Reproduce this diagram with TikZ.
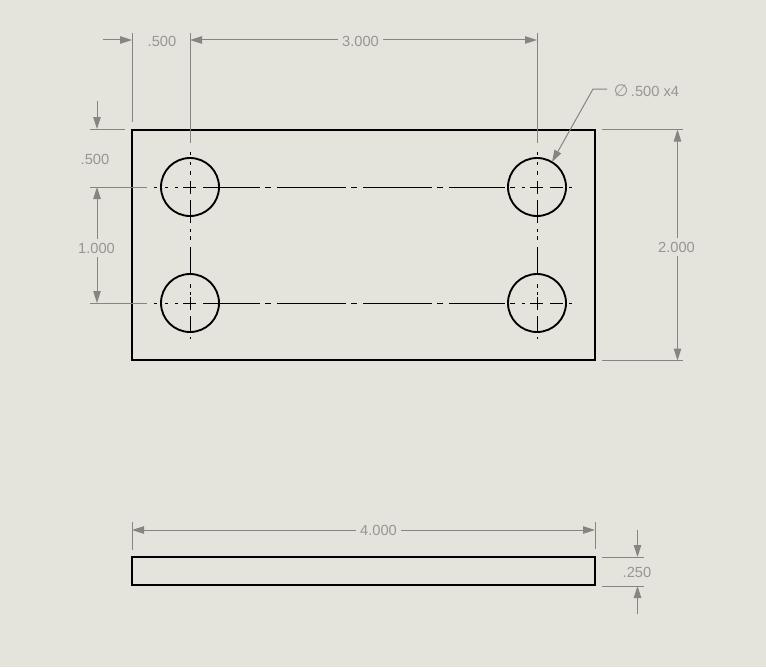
\documentclass[tikz,border=0pt]{standalone}
\usepackage{fontspec}
\setmainfont{Liberation Sans}
\newfontfamily\symfont{DejaVu Sans}
\usetikzlibrary{arrows.meta}
\definecolor{paper}{HTML}{E4E4DC}
\definecolor{dimgray}{HTML}{858582}
\definecolor{dimtext}{HTML}{969692}
\tikzset{
  part/.style={draw=black,line width=1.6pt,line join=miter},
  cline/.style={draw=black,line width=0.7pt},
  dimline/.style={draw=dimgray,line width=0.75pt},
  tip/.style={-{Triangle[length=9pt,width=5.6pt,fill=dimgray]}},
  dimlabel/.style={text=dimtext,font=\fontsize{11pt}{12pt}\selectfont,inner sep=3pt,text depth=0pt}
}
\newcommand{\hsegs}[2]{\foreach \a/\b in {#2}{\draw[cline] (\a,#1) -- (\b,#1);}}
\newcommand{\vsegs}[2]{\foreach \a/\b in {#2}{\draw[cline] (#1,\a) -- (#1,\b);}}
\begin{document}
\begin{tikzpicture}[x=0.75pt,y=-0.75pt]
\useasboundingbox (0,0) rectangle (766,667);
\fill[paper] (0,0) rectangle (766,667);

% centre lines
\hsegs{187}{154/157,165/168,175/178,183/196,203/260,265/271,277/346,351/357,363/432,437/443,449/505,510/515,522/525,530/543,550/563,569/572}
\hsegs{303}{154/157,165/168,175/178,183/196,203/260,265/271,277/346,351/357,363/432,437/443,449/505,510/515,522/525,530/543,550/563,569/572}
\vsegs{190}{152/155,162/165,171/175,181/194,200/223,229/232,236/240,247/274,284/288,292/295,297/310,316/333,337/339}
\vsegs{537}{152/155,162/165,171/175,181/194,200/223,229/232,236/240,247/274,284/288,292/295,297/310,316/333,337/339}

% part
\draw[part] (132,130) rectangle (595,360);
\foreach \n/\cx/\cy in {a/190/187,b/537/187,c/190/303,d/537/303}{
  \draw[part,line width=1.4pt] (\cx,\cy) circle[radius=29];
}
\draw[part] (132,557) rectangle (595,585);

% labels
\node[dimlabel] (top1) at (162,41) {.500};
\node[dimlabel] (top2) at (360.5,41) {3.000};
\node[dimlabel] (left1) at (95,159.5) {.500};
\node[dimlabel] (left2) at (96.5,248) {1.000};
\node[dimlabel] (right) at (676.5,247) {2.000};
\node[dimlabel,inner sep=5pt] (hole) at (646.5,91) {{\symfont\fontsize{12.5pt}{12pt}\selectfont\char"2205}\,.500 x4};
\node[dimlabel] (bot) at (378.5,530) {4.000};
\node[dimlabel] (thk) at (637,572.5) {.250};

% extension lines
\coordinate (e1a) at (132,33); \coordinate (e1b) at (132,122);
\coordinate (e2a) at (190,33); \coordinate (e2b) at (190,143);
\coordinate (e3a) at (537,33); \coordinate (e3b) at (537,143);
\draw[dimline] (e1a)--(e1b) (e2a)--(e2b) (e3a)--(e3b);
\coordinate (e4a) at (90,129); \coordinate (e4b) at (125,129);
\coordinate (e5a) at (90,187); \coordinate (e5b) at (147,187);
\coordinate (e6a) at (90,303); \coordinate (e6b) at (147,303);
\draw[dimline] (e4a)--(e4b) (e5a)--(e5b) (e6a)--(e6b);
\coordinate (e7a) at (602,129); \coordinate (e7b) at (683,129);
\coordinate (e8a) at (602,360.5); \coordinate (e8b) at (683,360.5);
\draw[dimline] (e7a)--(e7b) (e8a)--(e8b);
\coordinate (e9a) at (132,522); \coordinate (e9b) at (132,550);
\coordinate (e10a) at (595,522); \coordinate (e10b) at (595,549);
\draw[dimline] (e9a)--(e9b) (e10a)--(e10b);
\coordinate (e11a) at (602,557); \coordinate (e11b) at (644,557);
\coordinate (e12a) at (602,586); \coordinate (e12b) at (644,586);
\draw[dimline] (e11a)--(e11b) (e12a)--(e12b);

% dimension lines
\coordinate (d1s) at (103,40); \coordinate (d1t) at (132,40);
\draw[dimline,tip] (d1s) -- (d1t);
\coordinate (d2t) at (190,40); \coordinate (d3t) at (537,40);
\draw[dimline,tip] (top2.west |- d2t) -- (d2t);
\draw[dimline,tip] (top2.east |- d3t) -- (d3t);
\coordinate (d4s) at (97,101); \coordinate (d4t) at (97,129);
\draw[dimline,tip] (d4s) -- (d4t);
\coordinate (d5t) at (97,187); \coordinate (d6t) at (97,303);
\draw[dimline,tip] (d5t |- left2.north) -- (d5t);
\draw[dimline,tip] (d6t |- left2.south) -- (d6t);
\coordinate (d7t) at (677.5,129.5); \coordinate (d8t) at (677.5,360.5);
\draw[dimline,tip] (d7t |- right.north) -- (d7t);
\draw[dimline,tip] (d8t |- right.south) -- (d8t);
\coordinate (d9t) at (132,530); \coordinate (d10t) at (595,530);
\draw[dimline,tip] (bot.west |- d9t) -- (d9t);
\draw[dimline,tip] (bot.east |- d10t) -- (d10t);
\coordinate (d11s) at (637.5,530); \coordinate (d11t) at (637.5,557);
\coordinate (d12s) at (637.5,614); \coordinate (d12t) at (637.5,586);
\draw[dimline,tip] (d11s) -- (d11t);
\draw[dimline,tip] (d12s) -- (d12t);

% leader
\coordinate (lk) at (593,89); \coordinate (lt) at (552,162);
\draw[dimline,tip] (hole.west |- lk) -- (lk) -- (lt);
\end{tikzpicture}
\end{document}
